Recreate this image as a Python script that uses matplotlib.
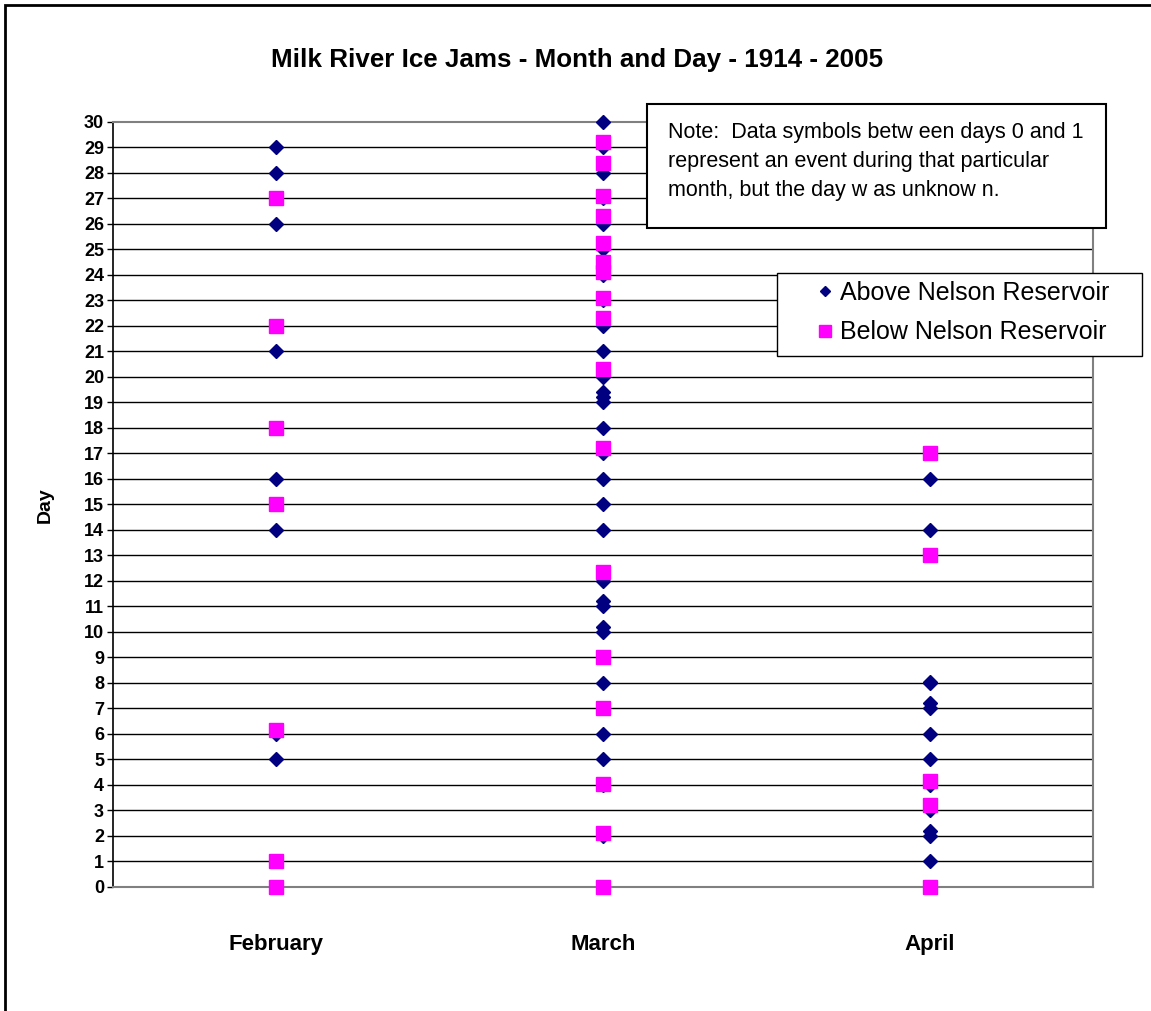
#!/usr/bin/python3
# -*- coding: utf-8 -*-

import matplotlib
matplotlib.use("Agg")
import matplotlib.pyplot as plt
from matplotlib.patches import Rectangle
from matplotlib.lines import Line2D

plt.rcParams["font.family"] = ["Liberation Sans", "DejaVu Sans"]

# 数据 (月份位置: 0.5 = February, 1.5 = March, 2.5 = April)
months = ["February", "March", "April"]
month_pos = [0.5, 1.5, 2.5]

above_feb = [29, 28, 26, 21, 16, 14, 6, 5]
below_feb = [27, 22, 18, 15, 6.15, 1, 0]

above_mar = [30, 29, 28, 27, 26, 25, 24, 23, 22, 21, 20, 19.4, 19.2, 19, 18, 17,
             16, 15, 14, 12, 11, 11.2, 10, 10.2, 8, 6, 5, 4, 2]
below_mar = [29.2, 28.4, 27.1, 26.3, 25.25, 24.5, 24.1, 23.1, 22.3, 20.3, 17.2,
             12.35, 9, 7, 4.05, 2.1, 0]

above_apr = [16, 14, 8, 8.05, 7, 7.2, 6, 5, 4, 3, 2, 2.2, 1]
below_apr = [17, 13, 4.15, 3.2, 0]

note = ("Note:  Data symbols betw een days 0 and 1\n"
        "represent an event during that particular\n"
        "month, but the day w as unknow n.")


def make_chart():
    fig = plt.figure(figsize=(11.51, 10.11), dpi=100)
    ax = fig.add_axes([0.0982, 0.1227, 0.8514, 0.7567])

    # 网格线
    for d in range(1, 30):
        ax.axhline(d, color="black", lw=1.0, zorder=1)

    groups_above = [above_feb, above_mar, above_apr]
    groups_below = [below_feb, below_mar, below_apr]
    for pos, ya, yb in zip(month_pos, groups_above, groups_below):
        ax.plot([pos] * len(ya), ya, ls="none", marker="D", ms=7,
                color="#000080", mec="#000080", zorder=3, clip_on=False)
        ax.plot([pos] * len(yb), yb, ls="none", marker="s", ms=9.5,
                color="#FF00FF", mec="#FF00FF", zorder=4, clip_on=False)

    ax.set_xlim(0, 3)
    ax.set_ylim(0, 30)
    ax.set_yticks(range(0, 31))
    ax.set_xticks(month_pos)
    ax.set_xticklabels(months, fontsize=16, fontweight="bold")
    ax.tick_params(axis="x", length=0, pad=34)
    ax.tick_params(axis="y", length=4, width=1, direction="out", pad=2.5,
                   labelsize=13)
    for lab in ax.get_yticklabels():
        lab.set_fontweight("bold")

    ax.spines["left"].set_color("black")
    ax.spines["left"].set_linewidth(1.2)
    for s in ["top", "right", "bottom"]:
        ax.spines[s].set_color("#808080")
        ax.spines[s].set_linewidth(1.5)

    fig.text(0.039, 0.5, "Day", rotation=90, fontsize=14, fontweight="bold",
             ha="center", va="center")
    fig.text(0.501, 0.941, "Milk River Ice Jams - Month and Day - 1914 - 2005",
             fontsize=18.7, fontweight="bold", ha="center", va="center")

    # 注释框
    fig.patches.append(Rectangle((0.5621, 0.7745), 0.3988, 0.1226,
                                 transform=fig.transFigure, fill=True,
                                 facecolor="white", edgecolor="black", lw=1.5,
                                 zorder=5))
    fig.text(0.5804, 0.879, note, fontsize=15.5, ha="left", va="top",
             linespacing=1.5, zorder=6)

    # 图例框
    fig.patches.append(Rectangle((0.6751, 0.6479), 0.3171, 0.0821,
                                 transform=fig.transFigure, fill=True,
                                 facecolor="white", edgecolor="black", lw=1.0,
                                 zorder=5))
    handles = [
        Line2D([], [], ls="none", marker="D", ms=5.5, color="#000080"),
        Line2D([], [], ls="none", marker="s", ms=9, color="#FF00FF"),
    ]
    leg = fig.legend(handles, ["Above Nelson Reservoir", "Below Nelson Reservoir"],
                     loc="upper left", bbox_to_anchor=(0.7081, 0.7221),
                     bbox_transform=fig.transFigure, fontsize=18,
                     frameon=False, borderpad=0, handlelength=0.8,
                     handletextpad=0.2, labelspacing=0.62, borderaxespad=0)
    leg.set_zorder(6)

    # 外框
    fig.patches.append(Rectangle((0.0045, -0.05), 1.2, 1.045,
                                 transform=fig.transFigure, fill=False,
                                 edgecolor="black", lw=2))

    fig.savefig("out.png", dpi=100)


def main():
    make_chart()


if __name__ == '__main__':
    main()
